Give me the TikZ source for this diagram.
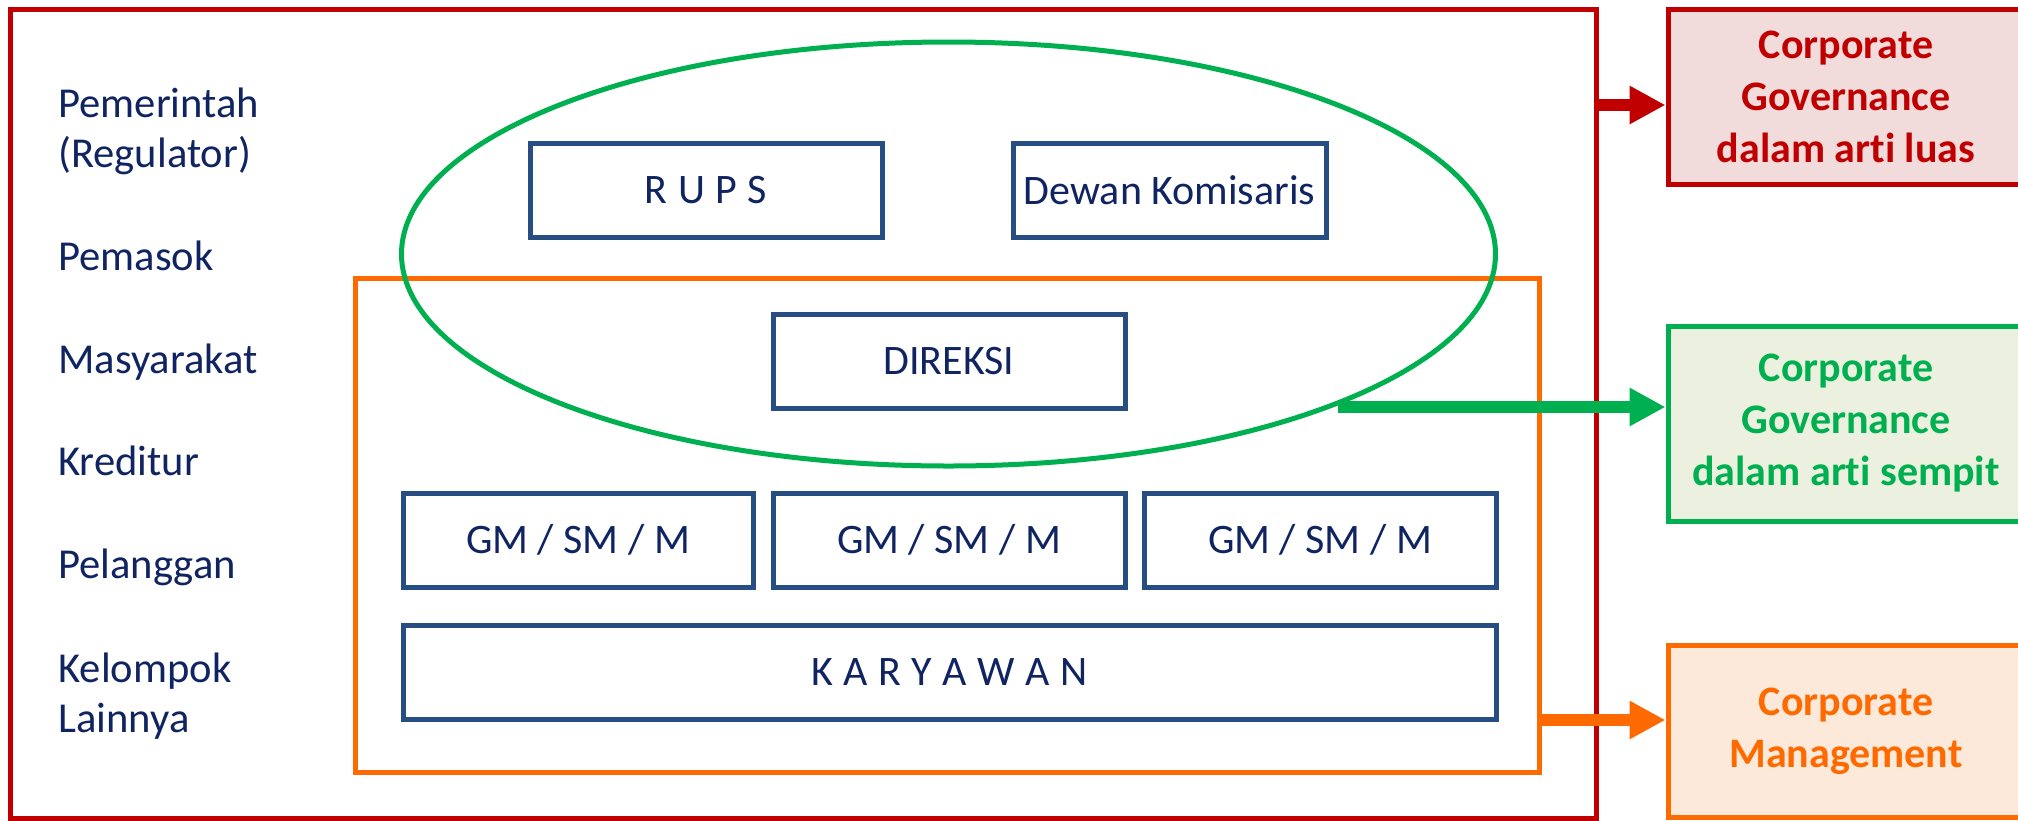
\documentclass[tikz,border=0pt]{standalone}
\usepackage{fontspec}
\setmainfont{Carlito}[Ligatures=NoCommon]
\usetikzlibrary{shapes.geometric,arrows.meta,calc}
\definecolor{navy}{HTML}{0F2461}
\definecolor{boxblue}{HTML}{264E82}
\definecolor{cgred}{HTML}{C00000}
\definecolor{cggreen}{HTML}{00B050}
\definecolor{cgorange}{HTML}{FF6A00}
\definecolor{fillred}{HTML}{F2DCDB}
\definecolor{fillgreen}{HTML}{EBF1DE}
\definecolor{fillorange}{HTML}{FDE9D9}
\newcommand{\lsp}{\hspace{0.25em}}
\tikzset{
  lbl/.style={anchor=base west, align=left, text=navy, font=\fontsize{21.3}{25}\selectfont, inner sep=0pt},
  orgbox/.style={draw=boxblue, line width=2.5pt, rectangle, minimum height=47pt, text=navy, font=\fontsize{21}{25}\selectfont, inner sep=0pt},
  sidebox/.style={rectangle, line width=2.5pt, align=center, font=\fontsize{21}{26}\selectfont\bfseries, inner sep=0pt, minimum width=178pt},
  bigarrow/.style={line width=6pt, -{Triangle[length=18pt,width=18pt]}}
}
\begin{document}
\begin{tikzpicture}[x=0.5pt,y=-0.5pt]
\clip (0,0) rectangle (2018,820);
\fill[white] (0,0) rectangle (2018,820);

% outer frames
\node[draw=cgred, line width=2.5pt, rectangle, minimum width=793pt, minimum height=404.5pt, inner sep=0pt] (outer) at (803,413.5) {};
\node[draw=cgorange, line width=2.5pt, rectangle, minimum width=592pt, minimum height=247pt, inner sep=0pt] (orect) at (947,525) {};

% stakeholders (base anchor = baseline of the last line)
\node[lbl] (pem) at (58,167) {Pemerintah\\(Regulator)};
\node[lbl] (pms) at (58,270) {Pemasok};
\node[lbl] (mas) at (58,373) {Masyarakat};
\node[lbl] (kre) at (58,475) {Kreditur};
\node[lbl] (pel) at (58,578) {Pelanggan};
\node[lbl] (kel) at (58,732) {Kelompok\\Lainnya};

% organs
\node[orgbox, minimum width=176pt] (rups) at (706,190) {R\lsp U\lsp P\lsp S};
\node[orgbox, minimum width=156.5pt] (dk) at (1169.5,190) {Dewan Komisaris};
\node[orgbox, minimum width=176pt] (dir) at (949,361) {DIREKSI};
\node[orgbox, minimum width=175pt] (gm1) at (578,540) {GM / SM / M};
\node[orgbox, minimum width=176pt] (gm2) at (949,540) {GM / SM / M};
\node[orgbox, minimum width=176pt] (gm3) at (1320,540) {GM / SM / M};
\node[orgbox, minimum width=546.5pt] (kar) at (949.5,672) {K\lsp A\lsp R\lsp Y\lsp A\lsp W\lsp A\lsp N};

% ellipse
\node[draw=cggreen, line width=2.5pt, ellipse, minimum width=547pt, minimum height=212pt, inner sep=0pt] (ell) at (948.5,254) {};

% side boxes
\node[sidebox, draw=cgred, fill=fillred, text=cgred, minimum height=87.5pt] (rbox) at (1846,96.5) {Corporate\\Governance\\dalam arti luas};
\node[sidebox, draw=cggreen, fill=fillgreen, text=cggreen, minimum height=97.5pt] (gbox) at (1846,423.5) {Corporate\\Governance\\dalam arti sempit};
\node[sidebox, draw=cgorange, fill=fillorange, text=cgorange, minimum height=86pt] (obox) at (1846,731) {Corporate\\Management};

% arrows
\coordinate (ra) at (0,105);
\coordinate (gs) at (1338,407);
\coordinate (oa) at (0,720);
\draw[bigarrow, cgred] (outer.east |- ra) -- (rbox.west |- ra);
\draw[bigarrow, cggreen] (gs) -- (gbox.west |- gs);
\draw[bigarrow, cgorange] (orect.east |- oa) -- (obox.west |- oa);
\end{tikzpicture}
\end{document}
